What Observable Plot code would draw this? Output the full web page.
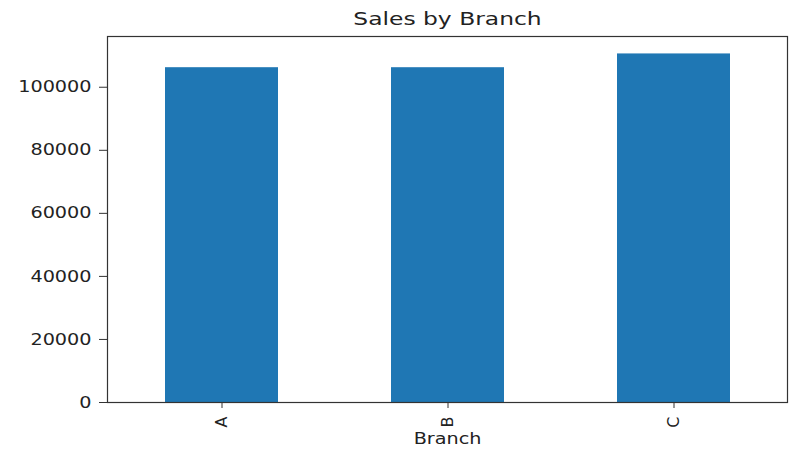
<!DOCTYPE html>
<html>
<head>
<meta charset="utf-8">
<script src="https://cdn.jsdelivr.net/npm/d3@7"></script>
<script src="https://cdn.jsdelivr.net/npm/@observablehq/plot@0.6"></script>
<style>
  html, body { margin: 0; padding: 0; background: white; }
</style>
</head>
<body>
<script>
const branches = ["A", "B", "C"];
const sales = [106200.37, 106197.67, 110568.71];
const yTicks = [0, 20000, 40000, 60000, 80000, 100000];
const titleText = "Sales by Branch";
const xLabelText = "Branch";

const data = branches.map((b, i) => ({branch: b, sales: sales[i]}));

const chart = Plot.plot({
  width: 800,
  height: 460,
  marginLeft: 107,
  marginRight: 13,
  marginTop: 36,
  marginBottom: 58,
  style: {fontFamily: "DejaVu Sans", fontSize: "16px", color: "#222", background: "white"},
  x: {domain: branches, paddingInner: 0.5, paddingOuter: 0.25, label: null},
  y: {domain: [0, 116097], label: null},
  marks: [
    Plot.barY(data, {x: "branch", y: "sales", fill: "#1f77b4"}),
    Plot.frame({stroke: "#333", strokeWidth: 1.2}),
    Plot.axisY({ticks: yTicks, tickFormat: d => String(d), tickSize: 8, tickPadding: 8, label: null, stroke: "#333"}),
    Plot.axisX({tickRotate: -90, tickSize: 6, tickPadding: 8, label: null, stroke: "#333"}),
    Plot.text([titleText], {text: d => d, frameAnchor: "top", dy: -17.5, lineAnchor: "middle", fontSize: 18, fill: "#222"}),
    Plot.text([xLabelText], {text: d => d, frameAnchor: "bottom", dy: 36.5, lineAnchor: "middle", fontSize: 16, fill: "#222"})
  ]
});

document.body.append(chart);

// emulate the horizontally stretched text of the reference
chart.querySelectorAll("text").forEach(t => {
  const tr = (t.getAttribute("transform") || "");
  if (tr.includes("rotate")) return;
  const len = t.getComputedTextLength();
  if (!len) return;
  const f = t.textContent === titleText ? 1.3 : 1.2;
  t.setAttribute("textLength", len * f);
  t.setAttribute("lengthAdjust", "spacingAndGlyphs");
});
</script>
</body>
</html>
